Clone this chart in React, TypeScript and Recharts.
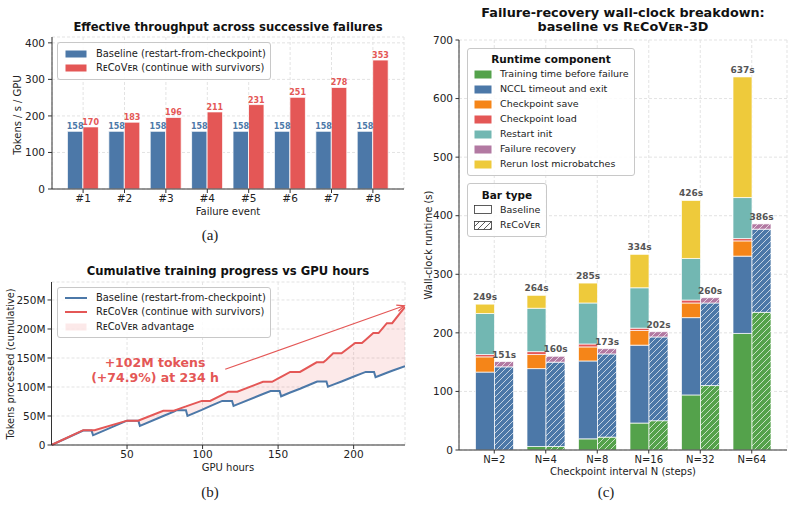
import React from 'react'
import {
  BarChart,
  Bar,
  XAxis,
  YAxis,
  CartesianGrid,
  LabelList,
  ComposedChart,
  Line,
  Area,
  ReferenceLine,
} from 'recharts'

const FONT = '"DejaVu Sans", sans-serif'
const SERIF = '"Liberation Serif", "DejaVu Serif", serif'
const RECOVER = 'R\u1d07C\u1d0fV\u1d07\u0280'

const BLUE = '#4C78A8'
const RED = '#E45756'
const GREEN = '#54A24B'
const ORANGE = '#F58518'
const TEAL = '#72B7B2'
const PURPLE = '#B279A2'
const YELLOW = '#EECA3B'
const AXIS = '#333'
const GRID = '#e3e3e3'

// (a) throughput per failure event
const failureEvents = ['#1', '#2', '#3', '#4', '#5', '#6', '#7', '#8']
const baselineThroughput = [158, 158, 158, 158, 158, 158, 158, 158]
const recoverThroughput = [170, 183, 196, 211, 231, 251, 278, 353]

// (b) cumulative tokens (millions) vs GPU hours
const gpuHours = [
  0, 21, 26.5, 27.5, 28.5, 50, 57.5, 58.5, 74, 81, 83, 89, 90, 99.5, 105, 113, 117, 119.5, 120.5, 123,
  140, 145, 146, 151, 152, 158, 164.5, 175.5, 176, 180, 182, 183, 186.5, 192, 201, 205.5, 208, 213,
  213.5, 214.5, 216.5, 222, 225.5, 234,
]
const baselineTokensM = [
  0, 25, 25, 17, 18, 42, 42, 33, 50, 57.5, 60, 60, 50, 60.5, 67, 76, 76, 76, 67.5, 70,
  88, 93, 93, 93, 84, 90.5, 97, 109, 109.5, 109.5, 109.5, 100.5, 104, 109.5, 119, 123.5, 126, 126,
  126, 117, 119, 124.5, 128, 136,
]
const recoverTokensM = [
  0, 25.5, 25.5, 25.5, 25.5, 42, 42, 43, 59, 59, 61, 66.5, 67.5, 76, 76, 86.5, 92, 92, 92, 92,
  109, 109, 109, 116, 117.5, 126, 126, 142.5, 142.5, 142.5, 147, 149.5, 158, 158, 176, 176, 181.5, 193,
  193, 193, 193, 210, 210, 238,
]
const tokenTicks = [0, 50, 100, 150, 200, 250]
const hourTicks = [50, 100, 150, 200]

// (c) wall-clock breakdown (seconds)
const intervals = ['N=2', 'N=4', 'N=8', 'N=16', 'N=32', 'N=64']
const baseTraining = [0, 6, 19, 46, 94, 199]
const baseNccl = [133, 133, 133, 133, 132, 132]
const baseCkptSave = [26, 24, 24, 25, 25, 26]
const baseCkptLoad = [4, 5, 5, 4, 5, 4]
const baseRestart = [70, 74, 70, 69, 71, 70]
const baseRerun = [16, 22, 34, 57, 99, 206]
const recTraining = [0, 6, 22, 50, 110, 235]
const recNccl = [142, 144, 142, 143, 141, 142]
const recFailure = [9, 10, 9, 9, 9, 9]
const baseTotals = [249, 264, 285, 334, 426, 637]
const recTotals = [151, 160, 173, 202, 260, 386]

const components = [
  { name: 'Training time before failure', color: GREEN },
  { name: 'NCCL timeout and exit', color: BLUE },
  { name: 'Checkpoint save', color: ORANGE },
  { name: 'Checkpoint load', color: RED },
  { name: 'Restart init', color: TEAL },
  { name: 'Failure recovery', color: PURPLE },
  { name: 'Rerun lost microbatches', color: YELLOW },
]

const throughputRows = failureEvents.map((event, i) => ({
  event,
  baseline: baselineThroughput[i],
  recover: recoverThroughput[i],
}))

const progressRows = gpuHours.map((h, i) => ({
  h,
  base: baselineTokensM[i],
  rec: recoverTokensM[i],
  gap: [baselineTokensM[i], recoverTokensM[i]],
}))

const breakdownRows = intervals.map((n, i) => ({
  n,
  bTrain: baseTraining[i],
  bNccl: baseNccl[i],
  bSave: baseCkptSave[i],
  bLoad: baseCkptLoad[i],
  bRestart: baseRestart[i],
  bRerun: baseRerun[i],
  rTrain: recTraining[i],
  rNccl: recNccl[i],
  rFail: recFailure[i],
}))

function Txt({ x, y, children, size = 9, bold = false, color = '#222', rotate = false, family = FONT, align = 'center' }: any) {
  const tx = align === 'left' ? '0' : '-50%'
  return (
    <div
      style={{
        position: 'absolute',
        left: x,
        top: y,
        transform: `translate(${tx},-50%)${rotate ? ' rotate(-90deg)' : ''}`,
        transformOrigin: align === 'left' ? 'left center' : 'center',
        fontSize: size,
        fontWeight: bold ? 700 : 400,
        color,
        fontFamily: family,
        whiteSpace: 'nowrap',
        lineHeight: 1,
      }}
    >
      {children}
    </div>
  )
}

function Box({ x, y, w, h }: any) {
  return (
    <div
      style={{
        position: 'absolute',
        left: x,
        top: y,
        width: w,
        height: h,
        border: '1px solid #c8c8c8',
        borderRadius: 3,
        background: 'rgba(255,255,255,0.85)',
        boxSizing: 'border-box',
      }}
    />
  )
}

function Swatch({ x, y, w = 22, h = 8, fill, border, line }: any) {
  if (line) {
    return <div style={{ position: 'absolute', left: x, top: y - 1, width: w, height: 2, background: line }} />
  }
  return (
    <svg style={{ position: 'absolute', left: x, top: y - h / 2 }} width={w} height={h}>
      <rect x={0.5} y={0.5} width={w - 1} height={h - 1} fill={fill} stroke={border || 'none'} strokeWidth={border ? 0.8 : 0} />
    </svg>
  )
}

function hatch(id: string, color: string, line = 'rgba(255,255,255,0.85)') {
  return (
    <pattern id={id} patternUnits="userSpaceOnUse" width={6} height={6}>
      <rect width={6} height={6} fill={color} />
      <path d="M0,6 L6,0 M-1.5,1.5 L1.5,-1.5 M4.5,7.5 L7.5,4.5" stroke={line} strokeWidth={0.8} />
    </pattern>
  )
}

function PatternDefs() {
  return (
    <svg width={0} height={0} style={{ position: 'absolute' }}>
      <defs>
        {hatch('hatch-green', GREEN)}
        {hatch('hatch-blue', BLUE)}
        {hatch('hatch-purple', PURPLE)}
        {hatch('hatch-legend', '#fff', '#333')}
      </defs>
    </svg>
  )
}

const tick = (size: number) => ({ fontSize: size, fill: '#222', fontFamily: FONT })

function ThroughputPanel() {
  return (
    <>
      <div style={{ position: 'absolute', left: 0, top: 0 }}>
        <BarChart
          width={420}
          height={260}
          data={throughputRows}
          margin={{ top: 37, right: 16, bottom: 0, left: 0 }}
          barSize={15.5}
          barGap={0}
        >
          <CartesianGrid stroke={GRID} strokeDasharray="3 2" />
          <XAxis
            dataKey="event"
            height={71}
            padding={{ left: 10.4, right: 10.4 }}
            tick={tick(10.5)}
            tickSize={4}
            tickMargin={2}
            stroke={AXIS}
          />
          <YAxis
            width={52}
            domain={[0, 416]}
            ticks={[0, 100, 200, 300, 400]}
            tick={tick(10.5)}
            tickSize={4}
            tickMargin={3}
            stroke={AXIS}
          />
          <Bar dataKey="baseline" fill={BLUE} stroke="#fff" strokeWidth={0.8} isAnimationActive={false}>
            <LabelList dataKey="baseline" position="top" offset={2} fill={BLUE} fontSize={8} fontWeight={700} />
          </Bar>
          <Bar dataKey="recover" fill={RED} stroke="#fff" strokeWidth={0.8} isAnimationActive={false}>
            <LabelList dataKey="recover" position="top" offset={2} fill={RED} fontSize={8} fontWeight={700} />
          </Bar>
        </BarChart>
      </div>
      <Txt x={228} y={28} size={11.6} bold color="#111">Effective throughput across successive failures</Txt>
      <Txt x={18} y={115} size={10} rotate>Tokens / s / GPU</Txt>
      <Txt x={228} y={212} size={10}>Failure event</Txt>
      <Txt x={210} y={235} size={15} family={SERIF}>(a)</Txt>
      <Box x={57} y={42} w={214} h={38} />
      <Swatch x={65} y={53.5} fill={BLUE} />
      <Txt x={96} y={53.5} size={9.9} align="left">Baseline (restart-from-checkpoint)</Txt>
      <Swatch x={65} y={67.5} fill={RED} />
      <Txt x={96} y={67.5} size={9.9} align="left">{RECOVER} (continue with survivors)</Txt>
    </>
  )
}

function Arrow(p: any) {
  const { x1, y1, x2, y2 } = p
  if (x1 == null) return null
  const ang = Math.atan2(y2 - y1, x2 - x1)
  const len = 8
  const spread = 0.42
  const ax = x2 - len * Math.cos(ang - spread)
  const ay = y2 - len * Math.sin(ang - spread)
  const bx = x2 - len * Math.cos(ang + spread)
  const by = y2 - len * Math.sin(ang + spread)
  return (
    <g>
      <line x1={x1} y1={y1} x2={x2} y2={y2} stroke={RED} strokeWidth={1.2} />
      <path d={`M${ax},${ay} L${x2},${y2} L${bx},${by}`} fill="none" stroke={RED} strokeWidth={1.2} />
    </g>
  )
}

function ProgressPanel() {
  return (
    <>
      <div style={{ position: 'absolute', left: 0, top: 255 }}>
        <ComposedChart width={420} height={251} data={progressRows} margin={{ top: 27, right: 15, bottom: 0, left: 0 }}>
          <CartesianGrid stroke={GRID} strokeDasharray="3 2" />
          <XAxis
            type="number"
            dataKey="h"
            domain={[0, 234]}
            ticks={hourTicks}
            allowDataOverflow
            height={61}
            tick={tick(10.5)}
            tickSize={4}
            tickMargin={2}
            stroke={AXIS}
          />
          <YAxis
            width={51.5}
            domain={[0, 281]}
            ticks={tokenTicks}
            tickFormatter={(v: number) => (v === 0 ? '0' : `${v}M`)}
            tick={tick(10.5)}
            tickSize={4}
            tickMargin={2}
            stroke={AXIS}
          />
          <Area dataKey="gap" fill={RED} fillOpacity={0.13} stroke="none" isAnimationActive={false} />
          <Line dataKey="base" stroke={BLUE} strokeWidth={2} dot={false} isAnimationActive={false} />
          <Line dataKey="rec" stroke={RED} strokeWidth={2} dot={false} isAnimationActive={false} />
          <ReferenceLine
            segment={[
              { x: 115, y: 130.5 },
              { x: 233.5, y: 240 },
            ]}
            shape={Arrow}
            ifOverflow="visible"
          />
        </ComposedChart>
      </div>
      <Txt x={228} y={272} size={11.6} bold color="#111">Cumulative training progress vs GPU hours</Txt>
      <Txt x={11} y={364} size={9.8} rotate>Tokens processed (cumulative)</Txt>
      <Txt x={228} y={468} size={10}>GPU hours</Txt>
      <Txt x={210} y={492} size={15} family={SERIF}>(b)</Txt>
      <Txt x={155} y={363} size={12.5} bold color={RED}>+102M tokens</Txt>
      <Txt x={155} y={378} size={12.5} bold color={RED}>(+74.9%) at 234 h</Txt>
      <Box x={57} y={287} w={214} h={51} />
      <Swatch x={65} y={297.7} line={BLUE} />
      <Txt x={96} y={297.7} size={9.9} align="left">Baseline (restart-from-checkpoint)</Txt>
      <Swatch x={65} y={312.3} line={RED} />
      <Txt x={96} y={312.3} size={9.9} align="left">{RECOVER} (continue with survivors)</Txt>
      <Swatch x={65} y={326.7} fill="rgba(228,87,86,0.13)" />
      <Txt x={96} y={326.7} size={9.9} align="left">{RECOVER} advantage</Txt>
    </>
  )
}

const totalLabel = (totals: number[]) => (p: any) => {
  const { x, y, width, index } = p
  if (x == null || index == null) return null
  return (
    <text x={x + width / 2} y={y - 4} textAnchor="middle" fontSize={9} fontWeight={700} fill="#555" fontFamily={FONT}>
      {totals[index]}s
    </text>
  )
}

function BreakdownPanel() {
  const edge = { stroke: '#fff', strokeWidth: 0.7, isAnimationActive: false }
  return (
    <>
      <div style={{ position: 'absolute', left: 400, top: 0 }}>
        <BarChart
          width={393}
          height={506}
          data={breakdownRows}
          margin={{ top: 40, right: 6, bottom: 0, left: 0 }}
          barSize={19}
          barGap={0}
        >
          <CartesianGrid stroke={GRID} strokeDasharray="3 2" />
          <XAxis
            dataKey="n"
            height={56}
            padding={{ left: 9.5, right: 9.5 }}
            tick={tick(10)}
            tickSize={3.5}
            tickMargin={2}
            stroke={AXIS}
          />
          <YAxis
            width={59}
            domain={[0, 700]}
            ticks={[0, 100, 200, 300, 400, 500, 600, 700]}
            tick={tick(10.5)}
            tickSize={3.5}
            tickMargin={2.5}
            stroke={AXIS}
          />
          <Bar dataKey="bTrain" stackId="base" fill={GREEN} {...edge} />
          <Bar dataKey="bNccl" stackId="base" fill={BLUE} {...edge} />
          <Bar dataKey="bSave" stackId="base" fill={ORANGE} {...edge} />
          <Bar dataKey="bLoad" stackId="base" fill={RED} {...edge} />
          <Bar dataKey="bRestart" stackId="base" fill={TEAL} {...edge} />
          <Bar dataKey="bRerun" stackId="base" fill={YELLOW} {...edge}>
            <LabelList dataKey="bRerun" content={totalLabel(baseTotals)} />
          </Bar>
          <Bar dataKey="rTrain" stackId="rec" fill="url(#hatch-green)" {...edge} />
          <Bar dataKey="rNccl" stackId="rec" fill="url(#hatch-blue)" {...edge} />
          <Bar dataKey="rFail" stackId="rec" fill="url(#hatch-purple)" {...edge}>
            <LabelList dataKey="rFail" content={totalLabel(recTotals)} />
          </Bar>
        </BarChart>
      </div>
      <Txt x={623} y={12.5} size={12.8} bold color="#111">Failure-recovery wall-clock breakdown:</Txt>
      <Txt x={623} y={26.5} size={12.8} bold color="#111">baseline vs {RECOVER}-3D</Txt>
      <Txt x={429} y={245} size={10} rotate>Wall-clock runtime (s)</Txt>
      <Txt x={623} y={472} size={10}>Checkpoint interval N (steps)</Txt>
      <Txt x={606} y={492} size={15} family={SERIF}>(c)</Txt>

      <Box x={467} y={48} w={168} h={128} />
      <Txt x={551} y={59} size={10.5} bold color="#111">Runtime component</Txt>
      {components.map((c, i) => (
        <React.Fragment key={c.name}>
          <Swatch x={474} y={74 + 15 * i} w={18} h={9} fill={c.color} />
          <Txt x={500} y={74 + 15 * i} size={9.5} align="left">{c.name}</Txt>
        </React.Fragment>
      ))}

      <Box x={467} y={183} w={80} h={54} />
      <Txt x={507} y={194.5} size={10.5} bold color="#111">Bar type</Txt>
      <Swatch x={474} y={209.5} w={18} h={9} fill="#fff" border="#333" />
      <Txt x={500} y={209.5} size={9.5} align="left">Baseline</Txt>
      <Swatch x={474} y={225} w={18} h={9} fill="url(#hatch-legend)" border="#333" />
      <Txt x={500} y={225} size={9.5} align="left">{RECOVER}</Txt>
    </>
  )
}

export default function App() {
  return (
    <div
      style={{
        position: 'absolute',
        left: 0,
        top: 0,
        width: 793,
        height: 506,
        background: '#fff',
        fontFamily: FONT,
        overflow: 'hidden',
      }}
    >
      <PatternDefs />
      <ThroughputPanel />
      <ProgressPanel />
      <BreakdownPanel />
    </div>
  )
}
